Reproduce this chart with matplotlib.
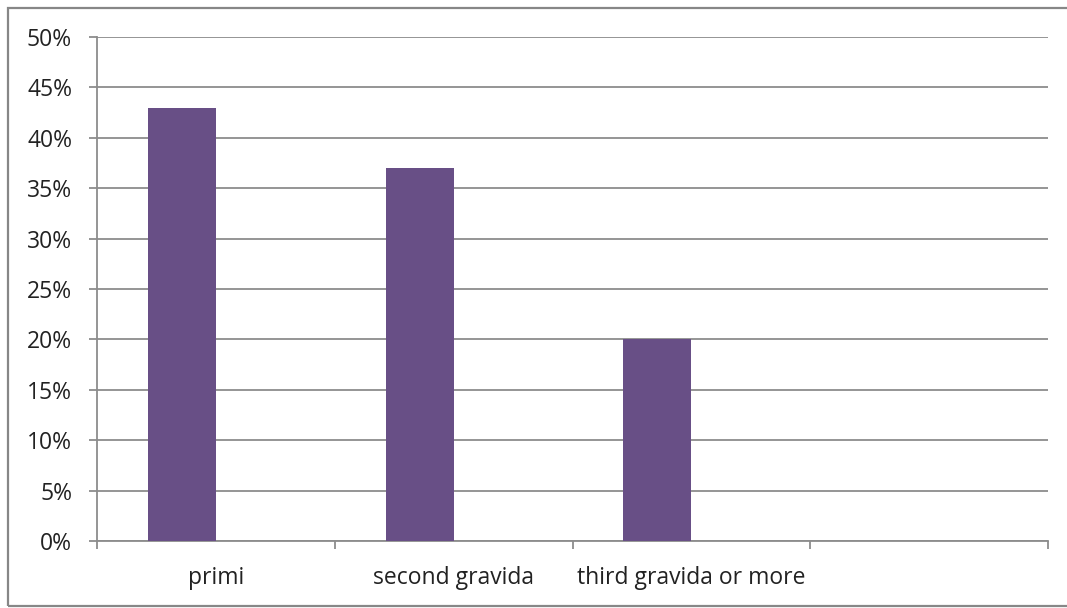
import matplotlib
matplotlib.use("Agg")
import matplotlib.pyplot as plt
from matplotlib.patches import Rectangle
from matplotlib.ticker import FixedLocator, PercentFormatter

categories = ["primi", "second gravida", "third gravida or more", ""]
values = [43, 37, 20, None]
y_ticks = [0, 5, 10, 15, 20, 25, 30, 35, 40, 45, 50]

bar_color = "#684F86"
grid_color = "#8C8C8C"

plt.rcParams["font.family"] = ["Open Sans", "DejaVu Sans"]

fig = plt.figure(figsize=(10.67, 6.08), dpi=100)
ax = fig.add_axes([97 / 1067, 67 / 608, 951 / 1067, 504 / 608])

# outer chart frame
fig.patches.append(Rectangle((8 / 1067, 2 / 608), 1.2, 598 / 608,
                             transform=fig.transFigure, fill=False,
                             edgecolor="#878787", linewidth=1.6))

bar_w = 0.286
for i, v in enumerate(values):
    if v is None:
        continue
    # clustered layout: the bar sits in the left half of its category slot
    ax.bar(i + 0.5 - bar_w / 2, v, width=bar_w, color=bar_color,
           edgecolor="none", zorder=3)

ax.set_xlim(0, len(categories))
ax.set_ylim(0, 50)
ax.set_yticks(y_ticks)
ax.yaxis.set_major_formatter(PercentFormatter(decimals=0))
ax.grid(axis="y", color=grid_color, linewidth=1.3, zorder=0)

ax.xaxis.set_major_locator(FixedLocator([i + 0.5 for i in range(len(categories))]))
ax.set_xticklabels(categories)
ax.xaxis.set_minor_locator(FixedLocator(range(len(categories) + 1)))
ax.tick_params(axis="x", which="major", length=0, pad=18, labelsize=16.5,
               labelcolor="#222222")
ax.tick_params(axis="x", which="minor", length=6, width=1.3, color=grid_color,
               direction="out")
ax.tick_params(axis="y", length=6, width=1.3, color=grid_color,
               direction="out", pad=12, labelsize=16.5, labelcolor="#222222")

for side in ["top", "right"]:
    ax.spines[side].set_visible(False)
for side in ["left", "bottom"]:
    ax.spines[side].set_color(grid_color)
    ax.spines[side].set_linewidth(1.3)

fig.savefig("out.png", dpi=100)
